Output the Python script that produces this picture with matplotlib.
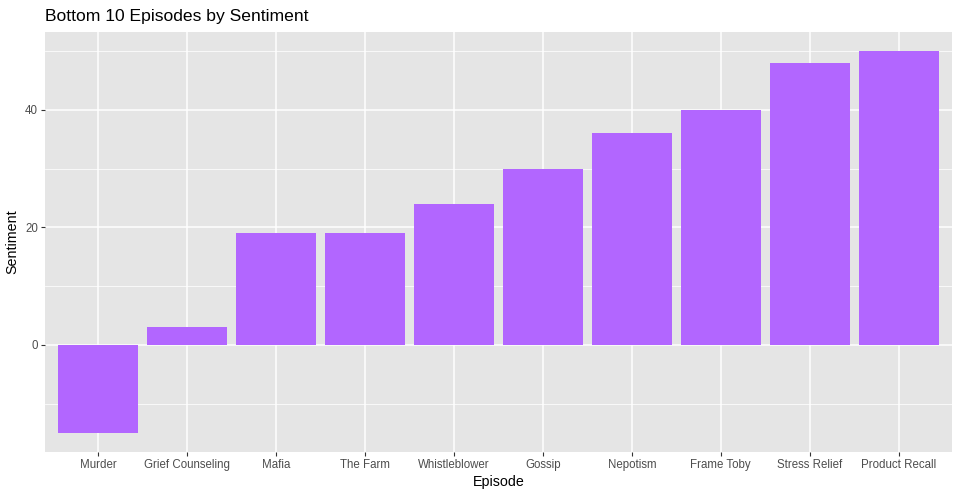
import matplotlib
matplotlib.use("Agg")
import matplotlib.pyplot as plt
from matplotlib.ticker import MultipleLocator

plt.rcParams['font.family'] = ['Liberation Sans', 'DejaVu Sans']

episodes = ["Murder", "Grief Counseling", "Mafia", "The Farm", "Whistleblower",
            "Gossip", "Nepotism", "Frame Toby", "Stress Relief", "Product Recall"]
sentiment = [-15, 3, 19, 19, 24, 30, 36, 40, 48, 50]

fig = plt.figure(figsize=(9.6, 4.96), dpi=100)
ax = fig.add_axes([45/960, 1 - 452/496, 907/960, 420/496])
ax.set_facecolor('#E5E5E5')

x = range(len(episodes))
ax.bar(x, sentiment, width=0.9, color='#B266FF', zorder=3)

# ggplot style expansion
lo, hi = min(sentiment), max(sentiment)
pad = (hi - lo) * 0.05
ax.set_ylim(lo - pad, hi + pad)
ax.set_xlim(-0.6, len(episodes) - 0.4)

ax.yaxis.set_major_locator(MultipleLocator(20))
ax.yaxis.set_minor_locator(MultipleLocator(10))
ax.set_xticks(list(x))
ax.set_xticklabels(episodes)

ax.grid(which='major', color='white', linewidth=1.1, zorder=0)
ax.grid(which='minor', axis='y', color='white', linewidth=0.55, zorder=0)
ax.set_axisbelow(True)
for s in ax.spines.values():
    s.set_visible(False)

ax.tick_params(which='major', length=3, width=0.8, color='#333333',
               labelcolor='#4D4D4D', labelsize=8.3, pad=2)
ax.tick_params(which='minor', length=0)

ax.set_xlabel("Episode", fontsize=10.3, labelpad=3)
ax.set_ylabel("Sentiment", fontsize=10.3, labelpad=4)
ax.set_title("Bottom 10 Episodes by Sentiment", fontsize=12.6, loc='left', pad=8)

fig.savefig("out.png", dpi=100)
